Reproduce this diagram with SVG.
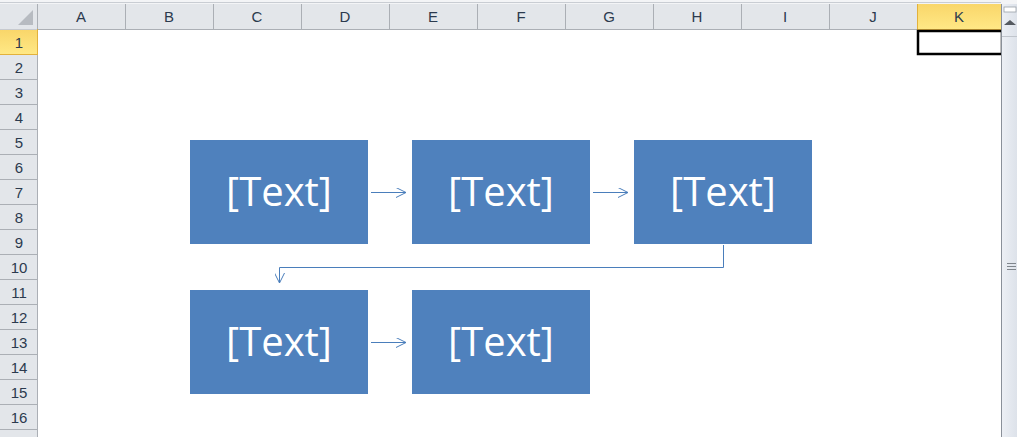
<svg xmlns="http://www.w3.org/2000/svg" width="1017" height="437" viewBox="0 0 1017 437">
<style>
.hdr{fill:#E3E6EA}
.sep{stroke:#ABAFB5;stroke-width:1}
.hl{font-family:"Liberation Sans",Arial,sans-serif;font-size:15px;fill:#2B3A4E;text-anchor:middle}
.box{fill:#4F81BD}
.bt{font-family:"Open Sans","Liberation Sans",sans-serif;font-size:40px;fill:#FFFFFF;text-anchor:middle}
.con{fill:none;stroke:#4A7EBB;stroke-width:1}
</style>
<defs>
<linearGradient id="sel" x1="0" y1="0" x2="0" y2="1">
<stop offset="0" stop-color="#F9D66A"/>
<stop offset="1" stop-color="#FFE885"/>
</linearGradient>
<linearGradient id="sb" x1="0" y1="0" x2="1" y2="0">
<stop offset="0" stop-color="#EDF0F5"/>
<stop offset="1" stop-color="#DDE2EA"/>
</linearGradient>
<marker id="ah" viewBox="0 0 10 10" refX="10" refY="5" markerWidth="10" markerHeight="10" markerUnits="userSpaceOnUse" orient="auto">
<path d="M0,0 L10,5 L0,10" fill="none" stroke="#4A7EBB" stroke-width="1"/>
</marker>
</defs>
<rect width="1017" height="437" fill="#FFFFFF"/>
<!-- top strip -->
<rect x="0" y="0" width="1017" height="4" fill="#F3F4F6"/>
<line x1="0" y1="2.5" x2="1001" y2="2.5" stroke="#C9CDD3"/>
<!-- column header -->
<rect class="hdr" x="0" y="4" width="1001" height="25"/>
<rect x="917" y="4" width="84" height="25" fill="url(#sel)"/>
<line class="sep" x1="0" y1="29.5" x2="1001" y2="29.5"/>
<line x1="917" y1="29.5" x2="1001" y2="29.5" stroke="#E2B13C"/>
<polygon points="33,10 33,25 18,25" fill="#B7BBC1"/>
<g>
<line class="sep" x1="37.5" y1="4" x2="37.5" y2="437"/>
<line class="sep" x1="125.5" y1="4" x2="125.5" y2="29"/>
<line class="sep" x1="213.5" y1="4" x2="213.5" y2="29"/>
<line class="sep" x1="301.5" y1="4" x2="301.5" y2="29"/>
<line class="sep" x1="389.5" y1="4" x2="389.5" y2="29"/>
<line class="sep" x1="477.5" y1="4" x2="477.5" y2="29"/>
<line class="sep" x1="565.5" y1="4" x2="565.5" y2="29"/>
<line class="sep" x1="653.5" y1="4" x2="653.5" y2="29"/>
<line class="sep" x1="741.5" y1="4" x2="741.5" y2="29"/>
<line class="sep" x1="829.5" y1="4" x2="829.5" y2="29"/>
<line x1="917.5" y1="4" x2="917.5" y2="29" stroke="#E2B13C"/>
</g>
<g>
<text class="hl" x="81" y="22">A</text>
<text class="hl" x="169" y="22">B</text>
<text class="hl" x="257" y="22">C</text>
<text class="hl" x="345" y="22">D</text>
<text class="hl" x="433" y="22">E</text>
<text class="hl" x="521" y="22">F</text>
<text class="hl" x="609" y="22">G</text>
<text class="hl" x="697" y="22">H</text>
<text class="hl" x="785" y="22">I</text>
<text class="hl" x="873" y="22">J</text>
<text class="hl" x="959" y="22">K</text>
</g>
<!-- row header -->
<rect class="hdr" x="0" y="29.5" width="37" height="408"/>
<rect x="0" y="30" width="37" height="24" fill="url(#sel)"/>
<line x1="0" y1="54.5" x2="37" y2="54.5" stroke="#E2B13C"/>
<line x1="37.5" y1="29" x2="37.5" y2="55" stroke="#E2B13C"/>
<g>
<line class="sep" x1="0" y1="79.5" x2="37" y2="79.5"/>
<line class="sep" x1="0" y1="104.5" x2="37" y2="104.5"/>
<line class="sep" x1="0" y1="129.5" x2="37" y2="129.5"/>
<line class="sep" x1="0" y1="154.5" x2="37" y2="154.5"/>
<line class="sep" x1="0" y1="179.5" x2="37" y2="179.5"/>
<line class="sep" x1="0" y1="204.5" x2="37" y2="204.5"/>
<line class="sep" x1="0" y1="229.5" x2="37" y2="229.5"/>
<line class="sep" x1="0" y1="254.5" x2="37" y2="254.5"/>
<line class="sep" x1="0" y1="279.5" x2="37" y2="279.5"/>
<line class="sep" x1="0" y1="304.5" x2="37" y2="304.5"/>
<line class="sep" x1="0" y1="329.5" x2="37" y2="329.5"/>
<line class="sep" x1="0" y1="354.5" x2="37" y2="354.5"/>
<line class="sep" x1="0" y1="379.5" x2="37" y2="379.5"/>
<line class="sep" x1="0" y1="404.5" x2="37" y2="404.5"/>
<line class="sep" x1="0" y1="429.5" x2="37" y2="429.5"/>
</g>
<g>
<text class="hl" x="19" y="48">1</text>
<text class="hl" x="19" y="73">2</text>
<text class="hl" x="19" y="98">3</text>
<text class="hl" x="19" y="123">4</text>
<text class="hl" x="19" y="148">5</text>
<text class="hl" x="19" y="173">6</text>
<text class="hl" x="19" y="198">7</text>
<text class="hl" x="19" y="223">8</text>
<text class="hl" x="19" y="248">9</text>
<text class="hl" x="19" y="273">10</text>
<text class="hl" x="19" y="298">11</text>
<text class="hl" x="19" y="323">12</text>
<text class="hl" x="19" y="348">13</text>
<text class="hl" x="19" y="373">14</text>
<text class="hl" x="19" y="398">15</text>
<text class="hl" x="19" y="423">16</text>
</g>
<!-- selected cell K1 -->
<rect x="918" y="31" width="84" height="23" fill="none" stroke="#000000" stroke-width="2.5"/>
<!-- scrollbar -->
<rect x="1001" y="4" width="16" height="433" fill="url(#sb)"/>
<line x1="1001.5" y1="4" x2="1001.5" y2="437" stroke="#8A9099"/>
<rect x="1004" y="7" width="12" height="5" fill="#FFFFFF" stroke="#9AA0A8" stroke-width="0.8"/>
<polygon points="1004,25 1010,20 1016,25" fill="#555A60"/>
<line x1="1002" y1="36.5" x2="1017" y2="36.5" stroke="#C0C5CC"/>
<g stroke="#7F858C" stroke-width="1">
<line x1="1007" y1="263.5" x2="1016" y2="263.5"/>
<line x1="1007" y1="266.5" x2="1016" y2="266.5"/>
<line x1="1007" y1="269.5" x2="1016" y2="269.5"/>
</g>
<!-- connectors -->
<g id="connectors">
<line class="con" x1="371" y1="192.5" x2="406" y2="192.5" marker-end="url(#ah)"/>
<line class="con" x1="593" y1="192.5" x2="628" y2="192.5" marker-end="url(#ah)"/>
<polyline class="con" points="723.5,245 723.5,267.5 279.5,267.5 279.5,283" marker-end="url(#ah)"/>
<line class="con" x1="371" y1="342.5" x2="406" y2="342.5" marker-end="url(#ah)"/>
</g>
<!-- nodes -->
<g id="node1"><rect class="box" x="190" y="140" width="178" height="104"/><text class="bt" x="279" y="206">[Text]</text></g>
<g id="node2"><rect class="box" x="412" y="140" width="178" height="104"/><text class="bt" x="501" y="206">[Text]</text></g>
<g id="node3"><rect class="box" x="634" y="140" width="178" height="104"/><text class="bt" x="723" y="206">[Text]</text></g>
<g id="node4"><rect class="box" x="190" y="290" width="178" height="104"/><text class="bt" x="279" y="356">[Text]</text></g>
<g id="node5"><rect class="box" x="412" y="290" width="178" height="104"/><text class="bt" x="501" y="356">[Text]</text></g>
</svg>
